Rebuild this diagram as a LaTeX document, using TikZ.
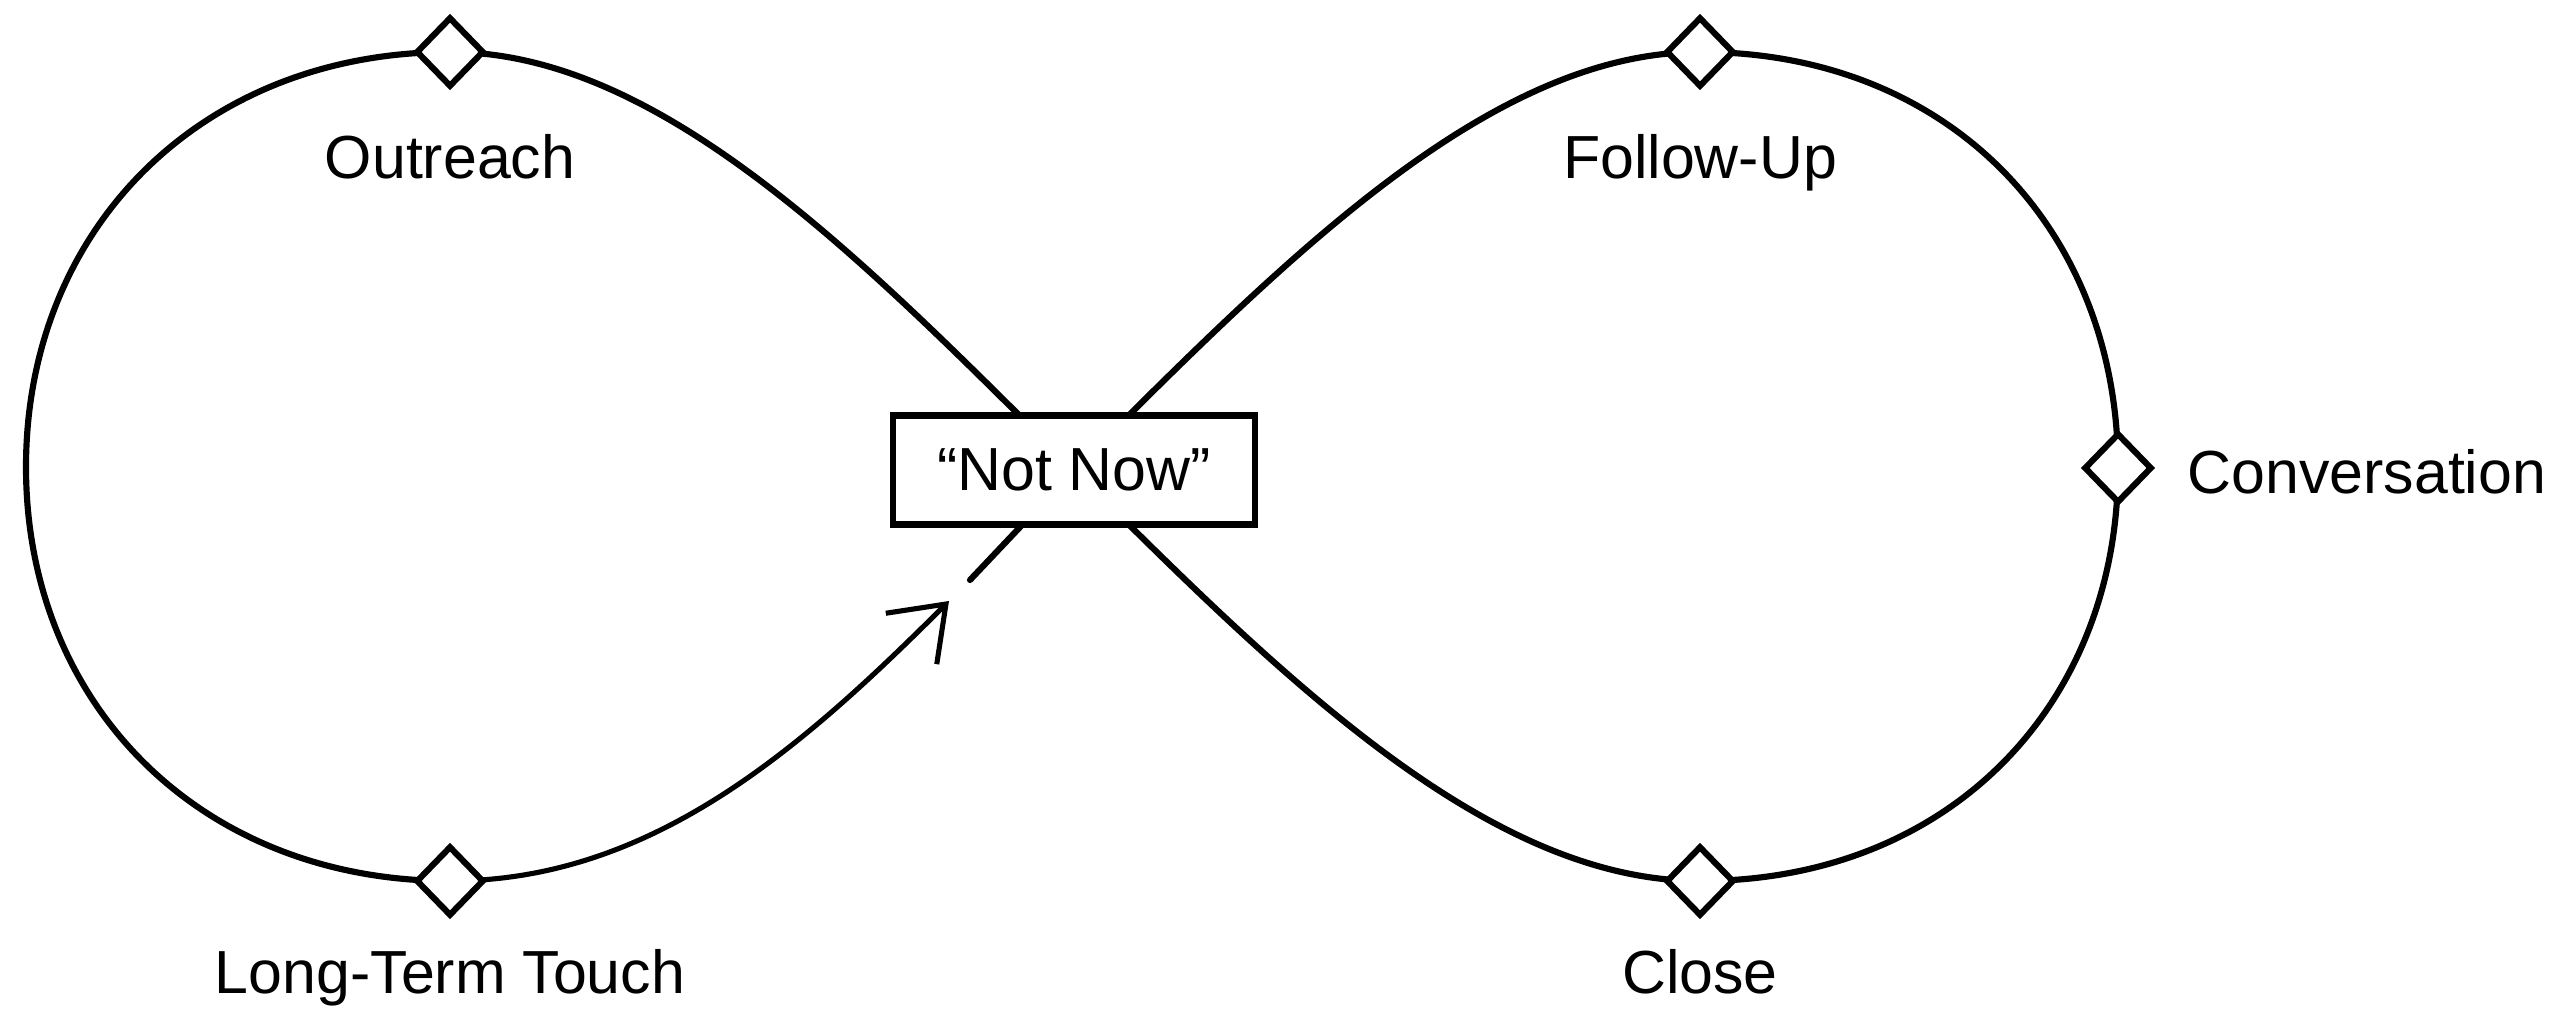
\documentclass[tikz,border=0pt]{standalone}
\usepackage{fontspec}
\setmainfont{Liberation Sans}
\usetikzlibrary{shapes.geometric,arrows.meta,backgrounds}
\begin{document}
\begin{tikzpicture}[x=0.01cm,y=-0.01cm,
  loopline/.style={line width=1.75pt},
  arrowline/.style={line width=1.45pt,-{Straight Barb[length=0.49cm,width=0.72cm]}},
  milestone/.style={diamond,draw,fill=white,line width=1.75pt,minimum width=0.68cm,minimum height=0.70cm,inner sep=0pt},
  lbl/.style={font=\fontsize{17.3pt}{20pt}\selectfont,inner sep=0pt},
  statebox/.style={draw,fill=white,line width=1.75pt,minimum width=3.62cm,minimum height=1.09cm,inner sep=0pt,font=\fontsize{17.3pt}{20pt}\selectfont}]
\useasboundingbox (0,0) rectangle (2569,1009);
% milestones
\node[milestone] (out) at (450,52) {};
\node[milestone] (ltt) at (450,881) {};
\node[milestone] (fol) at (1700,52) {};
\node[milestone] (clo) at (1700,881) {};
\node[milestone] (con) at (2118,468) {};
\node[statebox] (nn) at (1074,470) {“Not Now”};
% labels
\node[lbl,anchor=base] (lOut) at (450,178) {Outreach};
\node[lbl,anchor=base] (lFol) at (1700,178) {Follow-Up};
\node[lbl,anchor=base] (lLtt) at (450,993) {Long-Term Touch};
\node[lbl,anchor=base] (lClo) at (1700,993) {Close};
\node[lbl,anchor=base west] (lCon) at (2187,493) {Conversation};
% helper points
\coordinate (lx) at (26,467);
\coordinate (tipP) at (949,601);
\coordinate (gapQ) at (970,580);
\begin{pgfonlayer}{background}
\draw[loopline] (nn.center) .. controls (861,257) and (660,52) .. (out.center)
  .. controls (200,52) and (26,230) .. (lx)
  .. controls (26,704) and (200,881) .. (ltt.center);
\draw[arrowline] (ltt.center) .. controls (650,881) and (799,751) .. (tipP);
\draw[loopline,line cap=round] (gapQ) -- (nn.center);
\draw[loopline] (nn.center) .. controls (1287,257) and (1490,52) .. (fol.center)
  .. controls (1950,52) and (2118,230) .. (con.center)
  .. controls (2118,704) and (1950,881) .. (clo.center)
  .. controls (1490,881) and (1287,683) .. (nn.center);
\end{pgfonlayer}
\end{tikzpicture}
\end{document}
